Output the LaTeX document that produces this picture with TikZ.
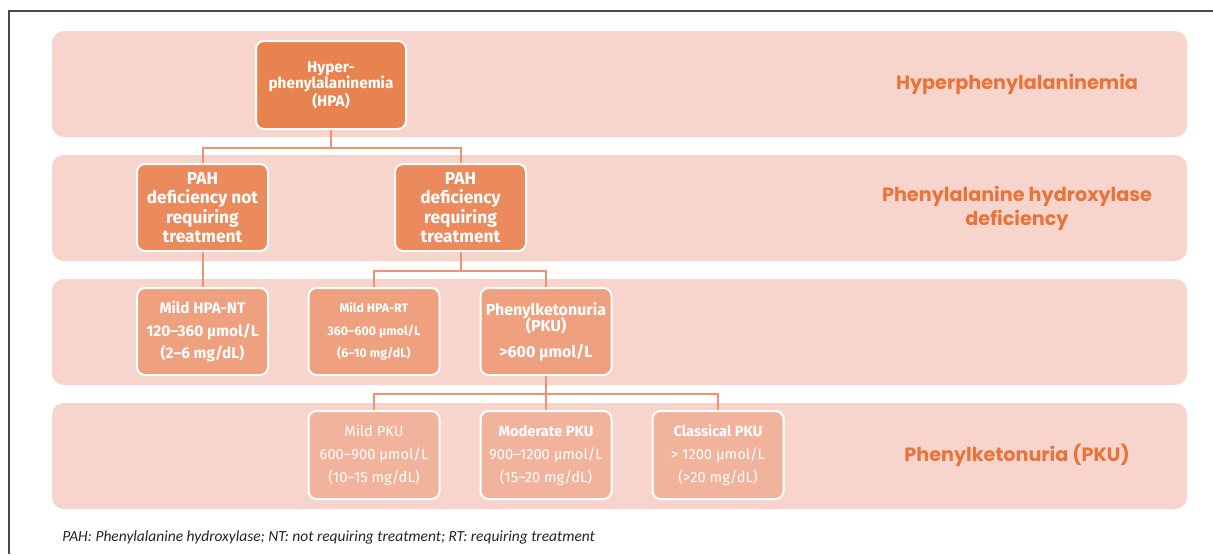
\documentclass[tikz,border=0pt]{standalone}
\usepackage{fontspec}
\setmainfont{Fira Sans}
\newfontfamily\labfont{Poppins}
\newfontfamily\notefont{Carlito}
\definecolor{band}{HTML}{F7D5CC}
\definecolor{boxA}{HTML}{E8834F}
\definecolor{boxB}{HTML}{EB8A5C}
\definecolor{boxC}{HTML}{EFA07E}
\definecolor{boxD}{HTML}{F2B39C}
\definecolor{conn}{HTML}{EC9370}
\definecolor{labc}{HTML}{E8743B}
\definecolor{frame}{HTML}{4A4A4A}
\tikzset{
  bandbox/.style={fill=band, draw=none, rounded corners=9pt},
  ubox/.style={draw=white, line width=1.5pt, rounded corners=6pt, text=white, align=center, inner sep=0pt},
  boxhpa/.style={ubox, fill=boxA, minimum width=112.5pt, minimum height=66pt, font=\bfseries\fontsize{11.5}{12.2}\selectfont},
  boxpah/.style={ubox, fill=boxB, minimum width=98.25pt, minimum height=65.25pt, font=\bfseries\fontsize{13}{14.6}\selectfont},
  boxlthree/.style={ubox, fill=boxC, minimum width=98.25pt, minimum height=65.25pt, font=\bfseries\fontsize{11.5}{17}\selectfont},
  boxlfour/.style={ubox, fill=boxD, minimum width=98.25pt, minimum height=66pt, font=\fontsize{11}{17.25}\selectfont},
  connline/.style={draw=conn, line width=1.5pt},
  sidelab/.style={text=labc, align=center, font=\labfont\bfseries\fontsize{14.4}{18}\selectfont}
}
\newcommand{\valsize}{\fontsize{11.6}{17}\selectfont}
\begin{document}
\begin{tikzpicture}[x=0.75pt,y=-0.75pt]
\useasboundingbox (0,0) rectangle (1213,554);
\fill[white] (0,0) rectangle (1213,554);
% frame
\draw[frame, line width=1.2pt] (9,554) -- (9,11) -- (1213,11);
% bands
\path[bandbox] (52,31) rectangle (1187,137);
\path[bandbox] (52,155) rectangle (1187,261);
\path[bandbox] (52,279) rectangle (1187,385);
\path[bandbox] (52,403) rectangle (1187,509);
% side labels
\node[sidelab] (lab1) at (1017,84) {Hyperphenylalaninemia};
\node[sidelab] (lab2) at (1017,208) {Phenylalanine hydroxylase\\deficiency};
\node[sidelab] (lab4) at (1017,455) {Phenylketonuria (PKU)};
% boxes
\node[boxhpa] (hpa) at (331,85) {Hyper-\\phenylalaninemia\\(HPA)};
\node[boxpah] (pahn) at (202.5,207.5) {PAH\\deficiency not\\requiring\\treatment};
\node[boxpah] (pahr) at (460.5,207.5) {PAH\\deficiency\\requiring\\treatment};
\node[boxlthree] (hpant) at (202.5,331.5) {Mild HPA-NT\\{\valsize 120–360 µmol/L}\\(2–6 mg/dL)};
\node[boxlthree, font=\bfseries\fontsize{9.3}{17}\selectfont] (hpart) at (374,331.5) {Mild HPA-RT\\360–600 µmol/L\\(6–10 mg/dL)};
\node[boxlthree, font=\bfseries\fontsize{12}{17}\selectfont] (pku) at (546,331.5) {\begin{tabular}{@{}c@{}}Phenylketonuria\\[-4.5pt](PKU)\\[2pt]>600 µmol/L\end{tabular}};
\node[boxlfour] (mpku) at (374,455) {Mild PKU\\600–900 µmol/L\\(10–15 mg/dL)};
\node[boxlfour] (modpku) at (546,455) {\textbf{Moderate PKU}\\900–1200 µmol/L\\(15–20 mg/dL)};
\node[boxlfour] (clpku) at (718,455) {\textbf{Classical PKU}\\> 1200 µmol/L\\(>20 mg/dL)};
% connectors
\draw[connline] (hpa.south) -- ++(0,18) -| (pahn.north);
\draw[connline] (hpa.south) -- ++(0,18) -| (pahr.north);
\draw[connline] (pahn.south) -- (hpant.north);
\draw[connline] (pahr.south) -- ++(0,19) -| (hpart.north);
\draw[connline] (pahr.south) -- ++(0,19) -| (pku.north);
\draw[connline] (pku.south) -- ++(0,18) -| (mpku.north);
\draw[connline] (pku.south) -- (modpku.north);
\draw[connline] (pku.south) -- ++(0,18) -| (clpku.north);
% footnote
\node[anchor=west, text=black!85, font=\notefont\itshape\fontsize{11.6}{13}\selectfont, inner sep=0pt] (note) at (62,537) {PAH: Phenylalanine hydroxylase; NT: not requiring treatment; RT: requiring treatment};
\end{tikzpicture}
\end{document}
